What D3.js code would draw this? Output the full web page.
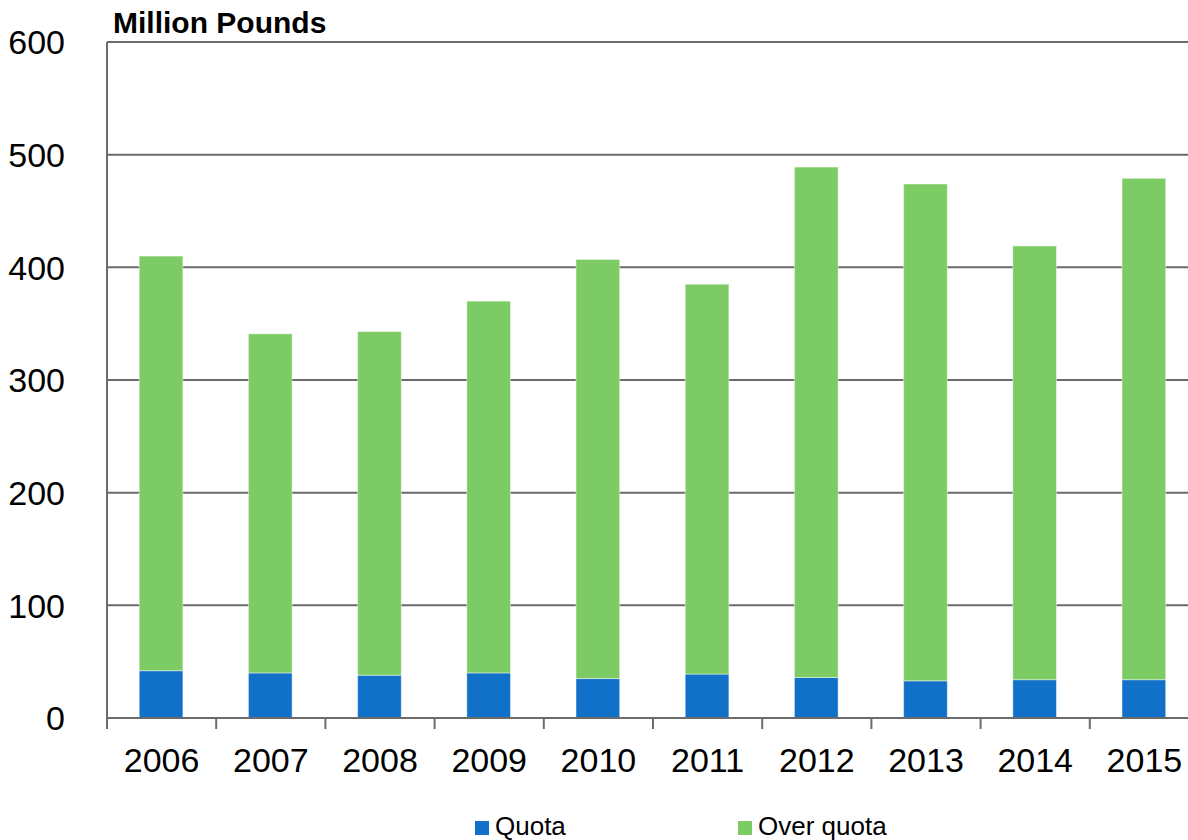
<!DOCTYPE html>
<html>
<head>
<meta charset="utf-8">
<script src="https://cdn.jsdelivr.net/npm/d3@7"></script>
<style>
  body { margin: 0; background: #fff; }
  text { font-family: "Liberation Sans", Arial, sans-serif; fill: #000; }
</style>
</head>
<body>
<script>
var years = ["2006", "2007", "2008", "2009", "2010", "2011", "2012", "2013", "2014", "2015"];
var quota = [42, 40, 38, 40, 35, 39, 36, 33, 34, 34];
var total = [410, 341, 343, 370, 407, 385, 489, 474, 419, 479];
var overQuota = total.map(function (t, i) { return t - quota[i]; });
var yTicks = [0, 100, 200, 300, 400, 500, 600];
var seriesNames = ["Quota", "Over quota"];
var colors = ["#1170c8", "#7dcb64"];

var width = 1188,
    height = 840,
    plotLeft = 107,
    plotRight = 1199,
    plotTop = 42,
    plotBottom = 718;

var svg = d3.select("body")
            .append("svg")
            .attr("width", width)
            .attr("height", height);

var x = d3.scaleBand()
          .domain(years)
          .range([plotLeft, plotRight])
          .padding(0);

var y = d3.scaleLinear()
          .domain([0, 600])
          .range([plotBottom, plotTop]);

// gridlines
svg.append("g")
    .selectAll("line")
    .data(yTicks.filter(function (d) { return d > 0; }))
    .enter()
    .append("line")
    .attr("x1", plotLeft)
    .attr("x2", width)
    .attr("y1", function (d) { return y(d); })
    .attr("y2", function (d) { return y(d); })
    .attr("stroke", "#6b6b6b")
    .attr("stroke-width", 2);

// y labels
svg.append("g")
    .selectAll("text")
    .data(yTicks)
    .enter()
    .append("text")
    .attr("x", 65)
    .attr("y", function (d) { return y(d); })
    .attr("dy", "0.36em")
    .attr("text-anchor", "end")
    .style("font-size", "34px")
    .text(function (d) { return d; });

// stacked bars
var rows = years.map(function (yr, i) {
    return { year: yr, "Quota": quota[i], "Over quota": overQuota[i] };
});
var stack = d3.stack().keys(seriesNames)(rows);

svg.append("g")
    .selectAll("g")
    .data(stack)
    .enter()
    .append("g")
    .attr("fill", function (d, i) { return colors[i]; })
    .selectAll("rect")
    .data(function (d) { return d; })
    .enter()
    .append("rect")
    .attr("x", function (d) { return x(d.data.year) + x.bandwidth() * 0.295; })
    .attr("width", x.bandwidth() * 0.4)
    .attr("y", function (d) { return y(d[1]); })
    .attr("height", function (d) { return y(d[0]) - y(d[1]); })
    .attr("stroke", "rgba(255,255,255,0.45)")
    .attr("stroke-width", 1);

// axes lines
svg.append("line")
    .attr("x1", plotLeft).attr("x2", plotLeft)
    .attr("y1", plotTop).attr("y2", plotBottom)
    .attr("stroke", "#6b6b6b").attr("stroke-width", 2);

svg.append("line")
    .attr("x1", plotLeft).attr("x2", width)
    .attr("y1", plotBottom).attr("y2", plotBottom)
    .attr("stroke", "#6b6b6b").attr("stroke-width", 2);

// category ticks
svg.append("g")
    .selectAll("line")
    .data(years)
    .enter()
    .append("line")
    .attr("x1", function (d) { return x(d); })
    .attr("x2", function (d) { return x(d); })
    .attr("y1", plotBottom)
    .attr("y2", plotBottom + 11)
    .attr("stroke", "#6b6b6b")
    .attr("stroke-width", 2);

// x labels
svg.append("g")
    .selectAll("text")
    .data(years)
    .enter()
    .append("text")
    .attr("x", function (d) { return x(d) + x.bandwidth() / 2; })
    .attr("y", 772)
    .attr("text-anchor", "middle")
    .style("font-size", "34px")
    .text(function (d) { return d; });

// title
svg.append("text")
    .attr("x", 113)
    .attr("y", 33)
    .style("font-size", "30px")
    .style("font-weight", "bold")
    .text("Million Pounds");

// legend
var legendX = [475, 738];
var legend = svg.append("g")
    .selectAll("g")
    .data(seriesNames)
    .enter()
    .append("g")
    .attr("transform", function (d, i) { return "translate(" + legendX[i] + ",821)"; });

legend.append("rect")
    .attr("width", 14)
    .attr("height", 14)
    .attr("fill", function (d, i) { return colors[i]; });

legend.append("text")
    .attr("x", 20)
    .attr("y", 14)
    .style("font-size", "26px")
    .text(function (d) { return d; });
</script>
</body>
</html>
